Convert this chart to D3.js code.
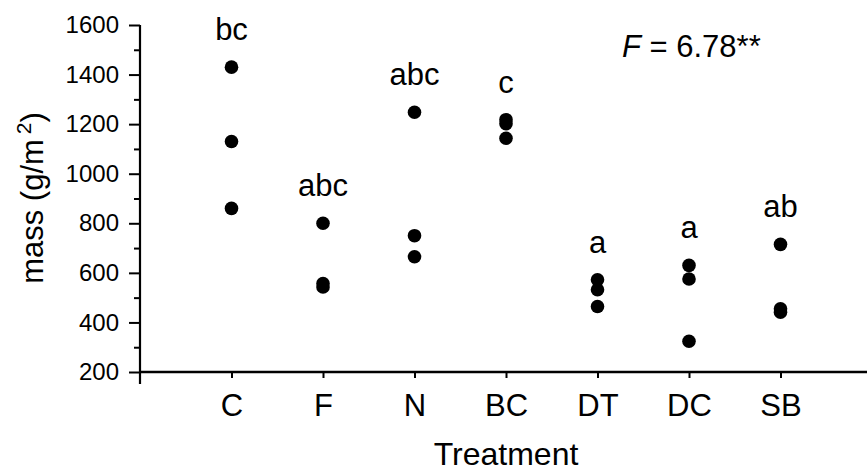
<!DOCTYPE html>
<html>
<head>
<meta charset="utf-8">
<script src="https://cdn.jsdelivr.net/npm/d3@7"></script>
<style>
  html, body { margin: 0; padding: 0; background: #fff; }
  svg { display: block; font-family: "Liberation Sans", Arial, Helvetica, sans-serif; }
</style>
</head>
<body>
<svg id="chart" width="867" height="474"></svg>
<script>
// Treatments along the x axis
const treatments = ["C", "F", "N", "BC", "DT", "DC", "SB"];

// Replicate biomass values (g/m²) for each treatment, in the same order
const massC  = [1430, 1130, 860];
const massF  = [800, 557, 543];
const massN  = [1248, 750, 665];
const massBC = [1218, 1202, 1143];
const massDT = [572, 532, 464];
const massDC = [630, 575, 324];
const massSB = [715, 455, 441];
const massByTreatment = [massC, massF, massN, massBC, massDT, massDC, massSB];

// Significance groupings shown above each treatment
const groupLetters = ["bc", "abc", "abc", "c", "a", "a", "ab"];

// Y axis ticks
const yMajorTicks = [200, 400, 600, 800, 1000, 1200, 1400, 1600];
const yMinorTicks = [300, 500, 700, 900, 1100, 1300, 1500];

const FONT = "'Liberation Sans', Arial, Helvetica, sans-serif";
const svg = d3.select("#chart");

const x = d3.scaleLinear().domain([0, treatments.length + 1]).range([140, 872]);
const y = d3.scaleLinear().domain([200, 1600]).range([372, 25]);

// Y axis: major ticks labelled, minor ticks unlabelled
const yAxis = svg.append("g")
  .attr("transform", `translate(${x(0)},0)`)
  .call(d3.axisLeft(y).tickValues(yMajorTicks).tickSize(11).tickPadding(10).tickFormat(d3.format("d")))
  .call(g => g.select(".domain").remove());
yAxis.selectAll("line").attr("stroke", "#000").attr("stroke-width", 2);
yAxis.selectAll("text").attr("font-size", 24).attr("fill", "#000").attr("font-family", FONT);

const yMinor = svg.append("g")
  .attr("transform", `translate(${x(0)},0)`)
  .call(d3.axisLeft(y).tickValues(yMinorTicks).tickSize(6).tickFormat(""))
  .call(g => g.select(".domain").remove());
yMinor.selectAll("line").attr("stroke", "#000").attr("stroke-width", 2);

// Y axis spine, running a little below the x axis
svg.append("line")
  .attr("x1", x(0)).attr("x2", x(0))
  .attr("y1", y(1600)).attr("y2", y(200) + 12)
  .attr("stroke", "#000").attr("stroke-width", 2.2);

// X axis: ticks at each treatment position
const xAxis = svg.append("g")
  .attr("transform", `translate(0,${y(200)})`)
  .call(d3.axisBottom(x)
    .tickValues(d3.range(1, treatments.length + 1))
    .tickSize(6).tickPadding(16)
    .tickFormat(i => treatments[i - 1]))
  .call(g => g.select(".domain").remove());
xAxis.selectAll("line").attr("stroke", "#000").attr("stroke-width", 2);
xAxis.selectAll("text").attr("font-size", 31).attr("fill", "#000").attr("font-family", FONT);

svg.append("line")
  .attr("x1", x(0)).attr("x2", 867)
  .attr("y1", y(200)).attr("y2", y(200))
  .attr("stroke", "#000").attr("stroke-width", 2.4);

// Replicate points
const points = massByTreatment.flatMap((vals, i) => vals.map(v => ({ i, v })));
svg.append("g").selectAll("circle")
  .data(points)
  .join("circle")
  .attr("cx", d => x(d.i + 1))
  .attr("cy", d => y(d.v))
  .attr("r", 6.8)
  .attr("fill", "#000");

// Grouping letters above the highest replicate
svg.append("g").selectAll("text")
  .data(groupLetters)
  .join("text")
  .attr("x", (d, i) => x(i + 1))
  .attr("y", (d, i) => y(d3.max(massByTreatment[i])) - 27)
  .attr("text-anchor", "middle")
  .attr("font-size", 31)
  .text(d => d);

// ANOVA result
const fText = svg.append("text")
  .attr("x", 622).attr("y", 57)
  .attr("font-size", 31);
fText.append("tspan").attr("font-style", "italic").text("F");
fText.append("tspan").text(" = 6.78**");

// Axis titles
svg.append("text")
  .attr("x", x(4)).attr("y", 465)
  .attr("text-anchor", "middle")
  .attr("font-size", 32)
  .text("Treatment");

const yTitle = svg.append("text")
  .attr("transform", "translate(43,198) rotate(-90)")
  .attr("text-anchor", "middle")
  .attr("font-size", 31);
yTitle.append("tspan").text("mass (g/m");
yTitle.append("tspan").attr("dx", 5).attr("dy", -12).attr("font-size", 21).text("2");
yTitle.append("tspan").attr("dy", 12).text(")");
</script>
</body>
</html>
